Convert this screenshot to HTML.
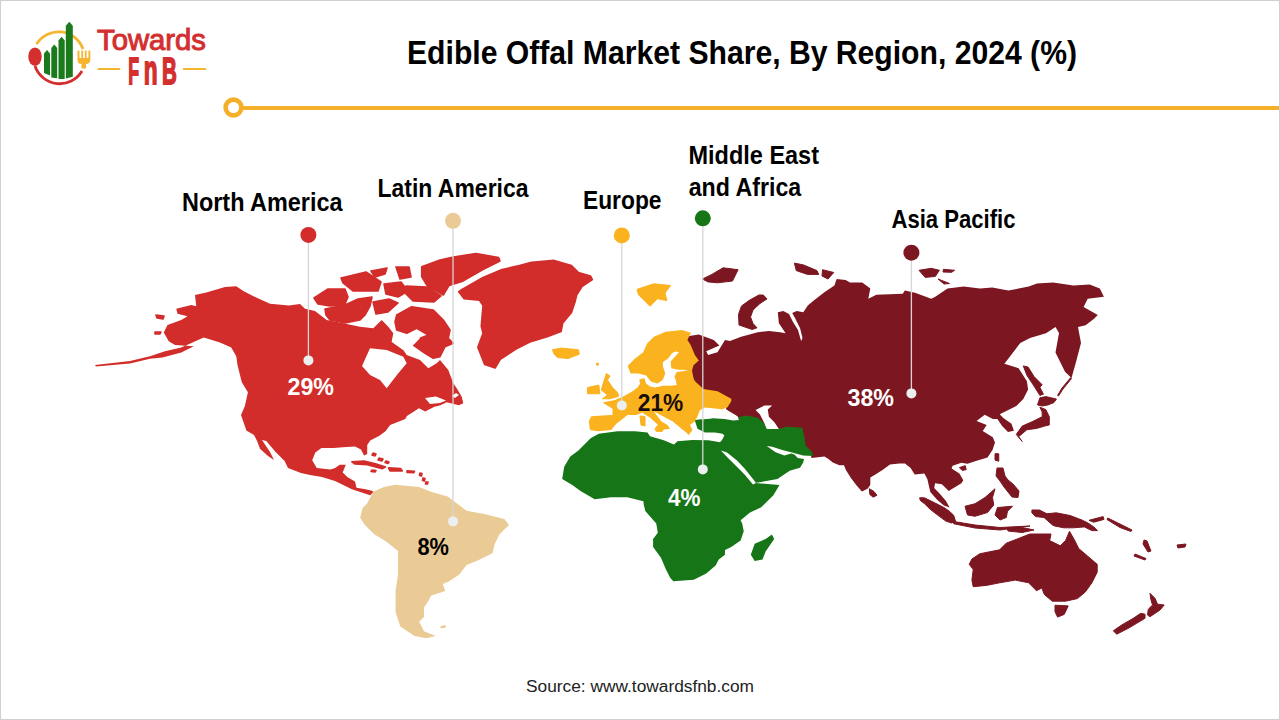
<!DOCTYPE html>
<html><head><meta charset="utf-8"><style>
html,body{margin:0;padding:0;background:#fff;}
body{width:1280px;height:720px;overflow:hidden;position:relative;}
svg{position:absolute;left:0;top:0;display:block;}
text{font-family:"Liberation Sans", sans-serif;}
</style></head><body>
<svg width="1280" height="720" viewBox="0 0 1280 720">
<rect x="0.5" y="0.5" width="1279" height="719" fill="#fff" stroke="#d0d0d0" stroke-width="1"/>

<g>
 <path d="M36.5,44 A26,26 0 0 1 83,49" fill="none" stroke="#f5b52e" stroke-width="2.8"/>
 <path d="M35,66 A26,26 0 0 0 82,71" fill="none" stroke="#d32f2f" stroke-width="2.8"/>
 <ellipse cx="35" cy="56.7" rx="6.7" ry="9.3" fill="#d32f2f"/>
 <path d="M44,53.5 L47,50 L50,53.5 L50,75.5 L44,73 Z" fill="#1b7a1b"/>
 <path d="M51.3,48 L54.25,44.4 L57.2,48 L57.2,78.3 L51.3,77.5 Z" fill="#1b7a1b"/>
 <path d="M58.5,40.5 L61.6,36.7 L64.7,40.5 L64.7,79 L58.5,79 Z" fill="#1b7a1b"/>
 <path d="M65.8,25.7 L69.3,21.7 L72.8,25.7 L72.8,76.7 L65.8,78.5 Z" fill="#1b7a1b"/>
 <path d="M77.5,50.5 L79.5,50.5 L79.5,58 L81.3,58 L81.3,50.5 L83,50.5 L83,58 L84.8,58 L84.8,50.5 L86.6,50.5 L86.6,58 L88.4,58 L88.4,50.5 L90.3,50.5 L90.3,60 Q90,64 86,64 L86,68.5 L81.5,68.5 L81.5,64 Q77.5,64 77.5,60 Z" fill="#f5b52e"/>
 <text x="97" y="49.7" font-size="29.8" font-weight="normal" fill="#d32f2f" stroke="#d32f2f" stroke-width="1.0" textLength="109" lengthAdjust="spacingAndGlyphs" style="font-family:&quot;Liberation Sans&quot;,sans-serif">Towards</text>
 <text x="128.2" y="83.8" font-size="36.8" font-weight="bold" fill="#d32f2f" stroke="#d32f2f" stroke-width="1.8" textLength="10.8" lengthAdjust="spacingAndGlyphs" style="font-family:&quot;Liberation Sans&quot;,sans-serif">F</text>
 <text x="143.8" y="83.8" font-size="41" font-weight="bold" fill="#d32f2f" stroke="#d32f2f" stroke-width="1.8" textLength="13.8" lengthAdjust="spacingAndGlyphs" style="font-family:&quot;Liberation Sans&quot;,sans-serif">n</text>
 <text x="162.1" y="83.8" font-size="36.8" font-weight="bold" fill="#d32f2f" stroke="#d32f2f" stroke-width="1.8" textLength="14.8" lengthAdjust="spacingAndGlyphs" style="font-family:&quot;Liberation Sans&quot;,sans-serif">B</text>
 <rect x="97.8" y="68" width="22.4" height="2" fill="#f5b52e"/>
 <rect x="183" y="68" width="23" height="2" fill="#f5b52e"/>
</g>

<circle cx="233.5" cy="107.5" r="7.9" fill="none" stroke="#f5b02a" stroke-width="4.6"/>
<rect x="241" y="106" width="1038" height="4" fill="#f5b02a"/>
<path d="M687.5,336.25 L698.75,334.4 L713.75,340 L719.4,345.6 L706.25,351.25 L708.1,355 L717.5,352.2 L725,340 L730,341.1 L741.1,336.7 L757.8,332.2 L768.9,331.1 L780,332.2 L785.6,333.3 L778.9,323.3 L777.8,312.2 L783.3,311 L789,314 L793,322 L798,330 L801.1,341.1 L802.5,338 L800,328 L795,318 L792.2,313 L796.7,311 L803.3,312.2 L807.8,305.6 L814.4,300 L824.4,292.2 L834.4,285.6 L836.7,278.9 L845.6,280 L850,282.5 L862.2,282.5 L870.3,288.6 L868.3,298.75 L876.4,294.7 L902.8,293.7 L904.8,290.6 L915,292.7 L931.25,298.75 L935.3,296.7 L947.5,288.6 L963.75,286.6 L980,288.6 L992.2,287.6 L1008.4,290.6 L1028.75,286.6 L1036.9,283.5 L1053.1,282.5 L1073.4,285.5 L1089.7,284.5 L1099.8,288.6 L1103.9,296.7 L1087.7,298.75 L1083.6,306.9 L1097.8,315 L1093.75,319 L1085.6,325.2 L1078,327 L1081,343 L1076,362 L1071.5,378 L1065,371.7 L1055.5,352.5 L1059,333 L1055.5,327 L1046,333.3 L1030,338 L1020.3,342.9 L1004.4,363.75 L1018.6,368.3 L1026.9,381.3 L1028.1,389.5 L1023.3,399 L1016.3,406 L1006.8,410.8 L999.7,414.3 L1003.3,417.9 L1011.5,423.8 L1013.9,430.8 L1008,432 L1002.1,426.1 L997.4,419 L992.8,418.9 L984.7,414.8 L976.6,421 L986.7,425 L982.7,431.1 L992.8,437.2 L995,442.5 L992.5,450 L987.5,457.5 L975,461.25 L967.5,463.75 L961.4,462.8 L952.6,465.7 L951.6,468.6 L959.4,473.5 L963.3,480.3 L961.4,483.2 L953.6,488 L948.7,491 L941.9,484.2 L935.1,483.2 L934.2,488 L940,493.9 L945.8,500.7 L949.7,507.5 L943.9,505.5 L937.1,499.7 L930.3,491.9 L928.3,483.2 L927.4,479.3 L924.4,473.5 L914.7,474.4 L910.6,468.1 L905,463.4 L899.4,463.4 L890,464.4 L882.5,470 L875,474.7 L870.3,477.5 L870.3,485 L867.5,488.75 L861.9,491.5 L856.2,485 L850.6,477.5 L845.9,470 L844,465.3 L839.4,465.3 L832.8,462.5 L828.1,458.75 L824.4,456.4 L811.5,458 L810.5,453 L803.6,446 L802.4,437 L800,430.5 L786.7,429.5 L778.9,431 L766.7,431 L762.4,424.3 L756.8,419.8 L746.7,418.5 L738.9,419 L737,416 L726,409.5 L726,405 L729.5,399.5 L716.5,393 L702,390.5 L693,383 L691,378.5 L691,370.5 L692.5,365 L697,360.6 L693.5,355.3 L689,344.6 L686,340Z" fill="#7c1722"/>
<path d="M702.5,279 L711.9,274.4 L723.1,267.8 L738.1,269.7 L732.5,281 L717.5,282.8 L708,281.9Z M763.3,295 L767,298.9 L760,303.5 L753,310 L750.5,317 L753,323.5 L757,327.8 L752.2,329.5 L739,325 L738.5,314.4 L741.5,306 L749,300.5 L758.9,295Z M794.4,263.1 L803.75,265 L816.9,270.6 L818.75,274.4 L807.5,274.4 L796.25,270.6Z M822.5,269.7 L833.75,272.5 L828,279 L822,276Z M919,270.3 L931.25,268.3 L939.4,270.3 L935.3,276.4 L925.2,277.4Z M943.4,269.3 L954.6,270.3 L951.6,272.3 L943,272Z M938,279 L949.5,283.5 L944,284Z M1023.3,365.9 L1028.1,367.1 L1034,376.5 L1042.2,384.8 L1039.9,387.2 L1043.4,394.2 L1039.9,395.4 L1034,386 L1026.9,375.3Z M1039.9,397.8 L1045.8,396.6 L1056.4,399 L1054,402.5 L1048.1,404.9 L1042.2,406 L1037.5,404.9Z M1070.6,377.7 L1062,388 L1057.6,395.4 L1058.5,396 L1063,389 L1071.5,378.5Z M1039.9,407.2 L1045.8,409.6 L1049.3,416.7 L1049.3,424.9 L1044.6,426.1 L1036.3,428.5 L1026.9,429.7 L1018.6,436.7 L1022.2,441.5 L1016.3,434.4 L1022.2,426.1 L1032.8,421.4 L1042.2,416.7 L1042.2,412Z M995,453.75 L998.75,453.75 L998.75,461.25 L995,460Z M959.4,467.6 L965.3,465.7 L966.2,469.6 L962.3,470.5Z M869.4,488.75 L874,491.5 L876.9,495.3 L873.1,497.2 L869.8,494.4Z M997,468 L1003,468 L1005,476 L1008,480 L1013,484 L1019,491 L1018,497.5 L1012,497 L1008,492 L1004,487 L1000,481 L996,476Z M965,506.25 L975,503.75 L985,497.5 L995,488.75 L992.5,497.5 L993.75,505 L987.5,512.5 L975,516.25 L967.5,515Z M997.5,507.5 L1012.5,506.25 L1007.5,511.25 L1006.25,517.5 L1000,520 L995,515Z M919.6,497.8 L924.4,497.8 L934.2,502.6 L943.9,507.5 L949.7,511.4 L953.6,515.3 L955.5,521.1 L951.6,523 L945.8,521.1 L938,515.3 L930.3,509.4 L924.4,503.6 L920.5,500.7Z M952.5,521.25 L975,525 L1000,527.5 L1030,526 L1000,530 L975,528 L953.75,523.75Z M1007,528 L1020,527 L1034,530 L1022,532.5 L1008,531Z M1031.9,510 L1039.4,510 L1046.9,513.75 L1056.25,512.8 L1070.3,515.6 L1082.5,520.3 L1088.1,523.1 L1093.75,526.9 L1097.5,530.6 L1091.9,530.6 L1084.4,526.9 L1073.1,527.8 L1063.75,527.8 L1054.4,525.9 L1052.5,525 L1044,517.5 L1035.6,516.6 L1031.9,512.8Z M1089,520.3 L1103.1,516.6 L1104,519.4 L1093.75,522.2Z M1107.8,518 L1122,525 L1132,530 L1131,531.5 L1120,527.5 L1107,519.5Z M971.9,559 L979.8,553.75 L999.6,549.8 L1006.2,543.2 L1016.7,539.2 L1029.9,534 L1051,534 L1049.7,540.6 L1060.3,545.8 L1065.5,540.6 L1069.5,531.3 L1074.8,540.6 L1078.7,548.5 L1088,556.4 L1097.2,564.3 L1097.2,572.2 L1091.9,582.8 L1085.3,592 L1077.4,598.6 L1065.5,601.2 L1052.3,601.2 L1044.4,594.6 L1041.8,588 L1036.5,590.7 L1028.6,582.8 L1015.4,580.1 L999.6,582.8 L986.4,585.4 L973.2,586.7 L971.9,580.1 L973.2,569.6 L969.2,564.3Z M1055,605.2 L1068.2,605.9 L1064.2,614.4 L1057.6,617.1 L1055,611.8Z M1150,593.3 L1155,598.3 L1157.5,604.2 L1164.2,605 L1160,610 L1150,616.7 L1147.5,615 L1148.3,609.2 L1152.5,605 L1150.8,599.2Z M1145,614.2 L1145,618.3 L1136.7,623.3 L1128.3,628.3 L1116.7,634.2 L1113.3,630.8 L1121.7,625 L1133.3,618.3 L1140.8,613.3Z M1177,545 L1186,544 L1185,547 L1178,548Z M1135,554 L1146,558.5 L1145,560 L1134,556Z M1144,540 L1147,541 L1151,551 L1148,552 L1143,544Z" fill="#7c1722" stroke="#7c1722" stroke-width="1.0" stroke-linejoin="round"/>
<path d="M586.6,442.3 L590.6,438.3 L598.75,433.75 L617.5,431.25 L635,431.25 L647.5,432.5 L650,436.25 L663.75,440.3 L673.9,444.4 L677.5,441.25 L692.5,440 L708.4,440.3 L720,442.2 L722,440 L724.4,435.6 L722.5,433.75 L715,432.5 L705,432.5 L697.5,428.75 L695,421 L695,420 L705,418.75 L717.5,417.5 L738.9,417 L746.7,415.6 L757.8,417.8 L764.4,423.3 L766.7,428.9 L778.9,428.9 L786.7,426.7 L802.2,427.8 L804.4,436.7 L805.6,445.6 L812.2,452.2 L813,456 L803,455.5 L791.1,452.2 L782.2,450 L772.2,446.7 L766.7,446.1 L775.6,452.2 L784.4,455.6 L791.1,453.5 L794.4,454.4 L797.8,458 L804,459 L803.3,462.2 L800,467.8 L789.7,470.8 L777.5,478.9 L755.2,483 L779.5,485 L773.4,495.2 L761.25,507.3 L750,512.5 L740.6,520.3 L742.2,523.4 L743.75,531.25 L740.6,540.6 L731.25,546.9 L725,550 L725,554.7 L718.75,559.4 L715.6,565.6 L706.25,573.4 L693.75,579.7 L673.4,581.25 L670.3,578.1 L665.6,568.75 L661,557.8 L653.1,546.9 L653.1,539 L657.8,532.8 L656.25,523.4 L645.3,510.9 L643.75,504.7 L643.4,501.25 L639.4,500.2 L627.2,497.2 L611,497.2 L594.7,499.2 L580.5,491.1 L572.3,485 L562.2,478.9 L564.2,466.7 L570.3,456.6 L578.4,450.5Z" fill="#167517"/>
<path d="M771.9,534.4 L774.2,539 L765.6,551.6 L762.5,559.4 L754.7,560.9 L750.8,554.7 L754.7,543.75 L765.6,539Z" fill="#167517"/>
<path d="M647.1,343.5 L653.9,336.7 L665.6,331.8 L682.1,329.9 L690.9,332.8 L687.4,340 L690.4,344.6 L695,355.3 L698.8,360.6 L693.5,365.2 L692,370.6 L693.5,378.2 L695,381.3 L703.4,388.9 L717.5,391.25 L731.25,398.75 L731.25,401.25 L727.8,406.7 L724.4,410 L717.5,408.75 L705,407.5 L700,410 L697.5,416.25 L695,421.25 L690,425 L692.5,430 L688.75,435 L686.25,432.5 L680,427.5 L672.5,421.25 L667.5,418.75 L653.75,411.25 L661.25,421.25 L667.5,425 L670,428.75 L660,430 L655,427.5 L658,425 L650,417.5 L643.75,413.75 L642.5,412.5 L636.25,415 L627.5,415 L621.25,420 L616.25,423.75 L611.25,430 L597.5,431.25 L590,430 L588.75,421.25 L591.25,416.25 L610,415 L612.5,415 L612.5,408.75 L602.5,402.5 L615,400 L623.75,396.25 L632.5,391.25 L637.5,387.5 L640,383.75 L639.3,379.5 L644.2,378 L646.1,383.4 L650,386.5 L655.3,387.4 L662.9,385.8 L670.6,385.8 L676.7,385.1 L675.9,380.5 L674.4,376.7 L676.7,372.1 L682.8,371.3 L689,370 L678.2,369.8 L671.3,368.3 L670.6,361.4 L673.6,358.3 L679,352.2 L675.9,351.5 L672.1,353 L668.3,358.3 L662.9,362.2 L662.9,366 L665.2,373.6 L662.9,379.7 L657.6,383.5 L652,382 L650,380.4 L646.1,375.6 L638.4,373.6 L630.6,373.6 L627.7,365.9 L634.5,359 L643.2,352.2Z" fill="#fab31f"/>
<path d="M607.5,380 L612.5,387.5 L617.5,392.5 L618.75,396.25 L610,398.75 L602.5,398.75 L607.5,395 L601.25,390 L603,384 L606.3,373.6 L610,376Z M587.5,387.5 L598.75,385 L600,393.75 L587.5,393.75Z M552.4,349.8 L561.1,348.1 L578.5,349.8 L579.3,354.2 L568,358.5 L557.6,357.6 L554.2,354.2Z M636.9,289.4 L653.75,283.75 L670.6,285.6 L665,293.1 L666.9,300.6 L657.5,298.75 L650,306.25 L638.75,295Z M640,416 L645,416.5 L645,426 L641,425Z M655,428.75 L663.75,428.75 L662,431.5 L656,431.25Z M596.5,363 L598.5,363.5 L598,365.5 L596.5,365Z" fill="#fab31f" stroke="#fab31f" stroke-width="1.0" stroke-linejoin="round"/>
<path d="M195,295 L206.25,292.5 L225,286.9 L236.25,286.25 L243.75,291.25 L256.25,297.5 L270,303.75 L289,305.6 L300,304 L305,308.8 L315,311 L326.7,320 L343.3,323.3 L360,326.7 L373.3,328.3 L381.7,320 L388.3,326.7 L393.3,333.3 L391.7,341.7 L403.3,350 L420,358 L436.7,363.3 L440,360 L448.3,370 L453.3,383.3 L456.7,388.3 L461.7,396.7 L463.3,403.3 L458.8,405.3 L446.6,402.2 L440.5,405.3 L434.4,406.8 L425.2,411.4 L419,408.3 L406.9,416 L405.3,419 L390.1,425.1 L385.5,431.2 L379.4,435.8 L370.2,440.4 L367.2,445 L367.2,454.1 L364.1,455.6 L361,449.5 L355,446.5 L342.7,447.3 L333.6,448 L321.4,448 L315.3,452.6 L312.2,460.2 L316.8,467.9 L330.5,469.4 L335.1,467.9 L339.7,464.8 L345.8,464.8 L342.7,472.4 L347.3,477 L355,481.6 L356.5,487.7 L365.6,489.2 L371.8,490.8 L373.5,492 L370.2,495.3 L361,492.3 L351.9,489.2 L342.7,484.7 L335,481 L322,477 L310,475 L301,473 L288,468 L284.6,461 L275.4,451.8 L266.3,441.1 L262,440 L270,452 L274,460 L268,456 L260,448.8 L257.1,441.1 L254,435 L246.4,430.4 L241,415.1 L244.9,406 L247.9,392.2 L241.8,382.3 L240,375 L237.5,365 L236.25,356.25 L231.25,347.5 L220,342.5 L203.75,337.5 L192.5,342.5 L181.25,347.5 L165,351.25 L150,356.25 L130,361 L95,365 L96,366.5 L130,363.5 L150,358.75 L162.5,357.5 L181.25,352.5 L193.75,346.25 L175,345 L168.75,341.25 L163.75,332.5 L167.5,325 L181.25,320 L187.5,316.25 L177.5,313.75 L176.25,308.75 L191.25,305 L196.25,306.25Z" fill="#d22d2b"/>
<path d="M314,298 L328,289 L345,289 L348,297 L345,304 L330,306 L318,304Z M325,309 L345,305 L358,299 L372,297 L370,306 L365,315 L360,320 L345,323 L330,320 L326,315Z M341,278 L366,272 L381,282 L378,291 L353,291 L343,283Z M371,271 L387,268 L385,274 L375,277Z M384,284 L401,282 L408,291 L398,297 L386,294Z M396,267 L409,267 L411,277 L400,279Z M406,286 L427,287 L441,296 L434,302 L413,301 L406,294Z M373,302 L389,299 L398,303 L388,312 L376,314Z M421.7,266.7 L440,260 L453.5,257 L476,253.5 L498.6,257.5 L500,261 L483,269.5 L462,281.5 L449,285.5 L443.3,295 L426.7,285 L421.7,276.7Z M396.7,315 L411.7,306.7 L433.3,310 L443.3,320 L450,330 L448.3,338.3 L453.3,343.3 L445,346.7 L440,356.7 L433.3,358.3 L425,353.3 L413.3,345 L420,338.3 L428.3,335 L416.7,328.3 L406.7,333.3 L396.7,330 L395,321.7Z M462,289.5 L483,277.5 L502,269.5 L519.4,265.6 L531.6,262.2 L554.2,260.4 L571.5,265.6 L578.5,272.6 L590.6,276 L592.4,279.5 L582,286.5 L576.7,295.1 L575,302.1 L571.5,312.5 L562.8,322.9 L561.1,331.6 L547.2,336.8 L529.9,342 L516,349 L500.3,359.4 L495.1,368 L484.7,364.6 L477.8,347.2 L483,333.3 L481.25,326.4 L483,305.6 L479.5,300.3 L463.9,298.6 L458.7,291.7Z M351.9,461.8 L364.1,461 L376.3,464 L385.5,467.1 L382.4,468.6 L367.2,464.8 L355,464Z M388.5,467.9 L400.8,468.6 L402.3,470.9 L390,470.9Z M372,470 L376,470.5 L375,472 L371,471.5Z M407,470.9 L414.5,471.2 L414,472.6 L407,472.4Z M156,315 L164,316 L163,319 L157,318Z M420,473 L422,473.5 L421.5,476 L419.5,475.5Z M423,478 L425,478.5 L424.5,481 L422.5,480.5Z M426,482 L428,482 L427.5,484 L425.5,484Z M373,453 L376,454 L375,456 L372,455Z M379,458 L383,459 L382,461 L378,460Z M386,461 L389,462 L388,463.5 L385,462.5Z M155,332 L161,332 L160,334 L155,334Z" fill="#d22d2b" stroke="#d22d2b" stroke-width="1.6" stroke-linejoin="round"/>
<path d="M373.2,491.8 L383.8,487.1 L395.6,484.7 L419.2,487.1 L431,491.8 L447.6,496.5 L457,503.6 L466.5,510.7 L485.4,514.3 L504.3,519 L509,524.9 L499.5,534.3 L494.8,543.8 L492.5,553.2 L478.3,560.3 L466.5,565 L459.4,574.5 L448.8,581.6 L442.8,584 L445.2,591 L431,595.8 L428.7,600.5 L424,607.6 L424,617 L419.2,621.7 L424,631.2 L435.8,635.9 L426.3,638.3 L414.5,635.9 L400.3,626.5 L395.6,612.3 L395.6,591 L398,574.5 L398,550.9 L386.1,541.4 L374.3,534.3 L364.9,524.9 L360.2,517.8 L362.5,508.3 L367.2,503.6Z" fill="#eacb95"/>
<path d="M441,626 L446,625 L445,628 L440,628Z" fill="#eacb95"/>
<path d="M370,348.3 L386.7,350 L403.3,356.7 L406.7,363.3 L398.3,373.3 L391.7,381.7 L386.7,388.3 L380,380 L370,375 L362,366Z M395,331.7 L406.7,335 L420,338.3 L411.7,346.7 L403.3,350 L391.7,341.7Z M403.3,350 L425,355 L436.7,363.3 L428.3,368.3 L420,360 L406.7,355Z M425,398 L436,396.5 L446,400.5 L440,403 L430,404Z M456,393 L459,395 L455,398 L452,396Z M702.2,411.1 L707.8,408.3 L713.3,410.6 L722.2,409.4 L725.6,407.8 L726.7,410 L737.8,416.7 L738.9,420 L733.3,420.6 L724.4,418.9 L713.3,418.3 L702.2,419.4 L698.9,417.8Z M755.6,410 L764.4,405.6 L772.2,405.6 L767.8,409.4 L768.9,416.7 L774.4,422.2 L778.9,428.9 L766.7,428.9 L764.4,423.3 L760,414.4Z M721,450.5 L727,452.5 L737,460.6 L745,469 L753,479 L756,483 L753,484.5 L745,475 L738.9,468.75 L730,460 L722.7,452.5Z" fill="#ffffff"/>
<line x1="308.4" y1="234.9" x2="308.4" y2="360.4" stroke="#d6d6d6" stroke-width="1.3"/>
<line x1="453" y1="220.8" x2="453" y2="521.4" stroke="#d6d6d6" stroke-width="1.3"/>
<line x1="621.8" y1="235.4" x2="621.8" y2="405.4" stroke="#d6d6d6" stroke-width="1.3"/>
<line x1="702.8" y1="218.3" x2="702.8" y2="469.4" stroke="#d6d6d6" stroke-width="1.3"/>
<line x1="911.4" y1="252.7" x2="911.4" y2="393.4" stroke="#d6d6d6" stroke-width="1.3"/>
<circle cx="308.4" cy="234.9" r="8" fill="#d22d2b"/>
<circle cx="308.4" cy="360.4" r="5" fill="#eceff0"/>
<circle cx="453" cy="220.8" r="8" fill="#eacb95"/>
<circle cx="453" cy="521.4" r="5" fill="#eceff0"/>
<circle cx="621.8" cy="235.4" r="8" fill="#fab31f"/>
<circle cx="621.8" cy="405.4" r="5" fill="#eceff0"/>
<circle cx="702.8" cy="218.3" r="8" fill="#167517"/>
<circle cx="702.8" cy="469.4" r="5" fill="#eceff0"/>
<circle cx="911.4" cy="252.7" r="8" fill="#7c1722"/>
<circle cx="911.4" cy="393.4" r="5" fill="#eceff0"/>
<text x="407" y="63.75" font-size="32.5" font-weight="bold" fill="#000" textLength="670" lengthAdjust="spacingAndGlyphs">Edible Offal Market Share, By Region, 2024 (%)</text><text x="182" y="210.7" font-size="25" font-weight="bold" fill="#000" textLength="160.5" lengthAdjust="spacingAndGlyphs">North America</text><text x="377.5" y="196.9" font-size="25" font-weight="bold" fill="#000" textLength="151" lengthAdjust="spacingAndGlyphs">Latin America</text><text x="583" y="208.7" font-size="25" font-weight="bold" fill="#000" textLength="78.5" lengthAdjust="spacingAndGlyphs">Europe</text><text x="688.5" y="163.9" font-size="25" font-weight="bold" fill="#000" textLength="130.5" lengthAdjust="spacingAndGlyphs">Middle East</text><text x="688.7" y="195.7" font-size="25" font-weight="bold" fill="#000" textLength="112.5" lengthAdjust="spacingAndGlyphs">and Africa</text><text x="891.5" y="227.8" font-size="25" font-weight="bold" fill="#000" textLength="124" lengthAdjust="spacingAndGlyphs">Asia Pacific</text><text x="287.5" y="394.9" font-size="24" font-weight="bold" fill="#ffffff" textLength="46.5" lengthAdjust="spacingAndGlyphs">29%</text><text x="417.5" y="554.7" font-size="24" font-weight="bold" fill="#000000" textLength="31.5" lengthAdjust="spacingAndGlyphs">8%</text><text x="637.8" y="410.9" font-size="24" font-weight="bold" fill="#1a0d0d" textLength="45.5" lengthAdjust="spacingAndGlyphs">21%</text><text x="668" y="505.9" font-size="24" font-weight="bold" fill="#ffffff" textLength="32.5" lengthAdjust="spacingAndGlyphs">4%</text><text x="847.5" y="405.9" font-size="24" font-weight="bold" fill="#ffffff" textLength="46.5" lengthAdjust="spacingAndGlyphs">38%</text><text x="526" y="691.9" font-size="16" font-weight="normal" fill="#222222" textLength="228" lengthAdjust="spacingAndGlyphs">Source: www.towardsfnb.com</text>
</svg>
</body></html>
